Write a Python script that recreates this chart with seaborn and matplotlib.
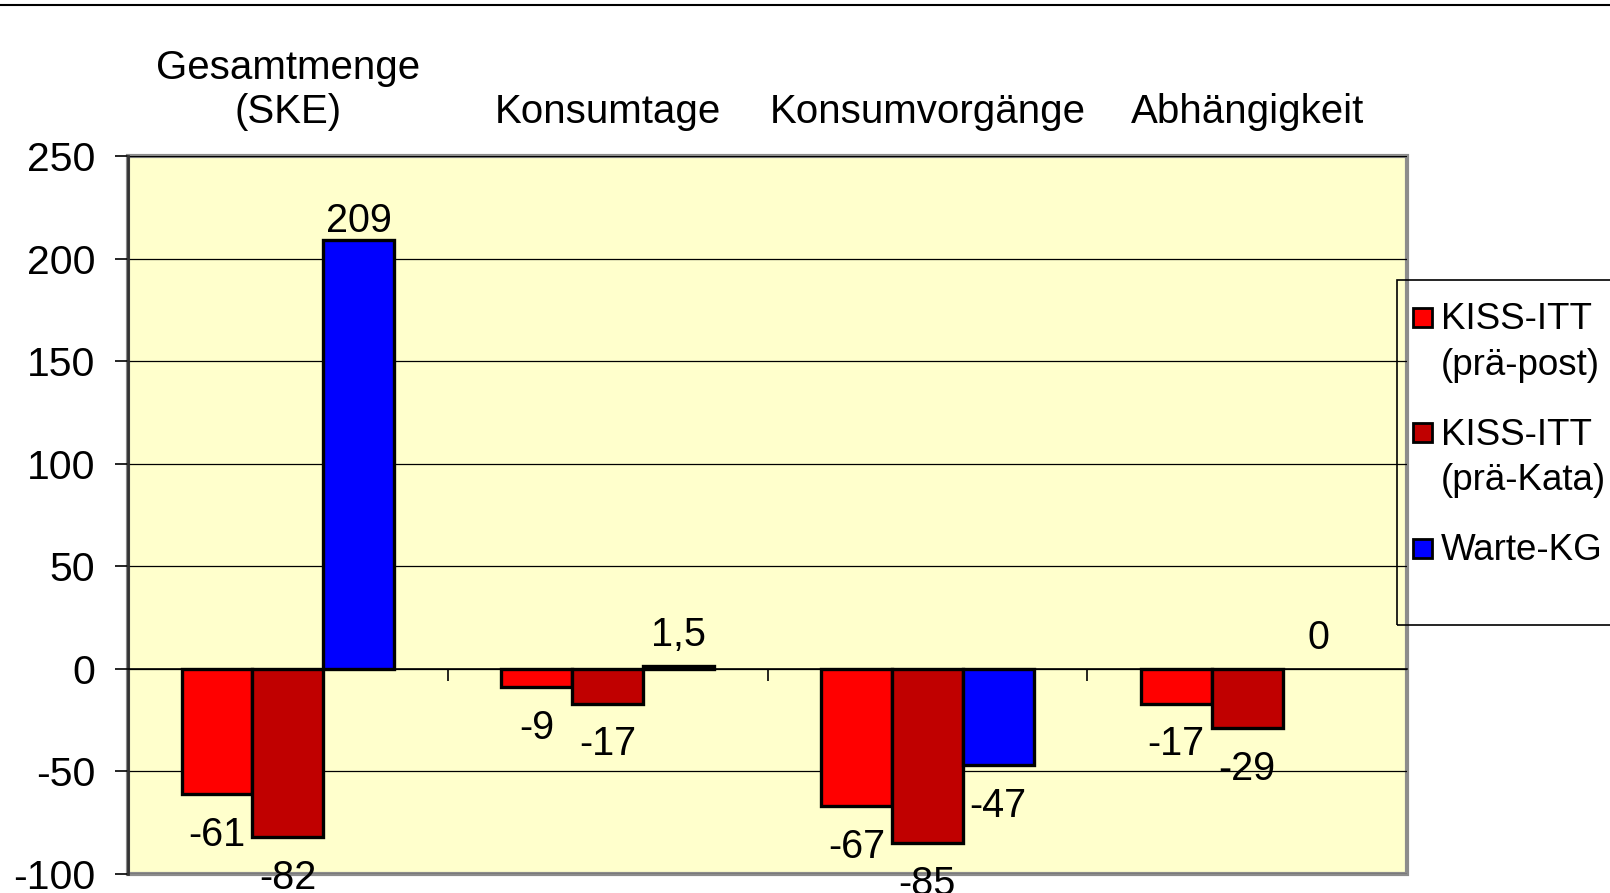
import numpy as np
import pandas as pd
import seaborn as sns
import matplotlib.pyplot as plt
from matplotlib.patches import Rectangle
from matplotlib.lines import Line2D

kategorien = ["Gesamtmenge\n(SKE)", "Konsumtage", "Konsumvorgänge", "Abhängigkeit"]
gruppen = ["KISS-ITT\n(prä-post)", "KISS-ITT\n(prä-Kata)", "Warte-KG"]
farben = ["#FF0000", "#C00000", "#0000FF"]
prae_post = [-61, -9, -67, -17]
prae_kata = [-82, -17, -85, -29]
warte_kg = [209, 1.5, -47, 0]
yticks = [-100, -50, 0, 50, 100, 150, 200, 250]

plt.rcParams['font.family'] = ['Liberation Sans', 'DejaVu Sans']
plt.rcParams['axes.unicode_minus'] = False

df = pd.DataFrame({
    "kategorie": kategorien * len(gruppen),
    "gruppe": np.repeat(gruppen, len(kategorien)),
    "wert": prae_post + prae_kata + warte_kg,
})

W, H = 1610, 893
fig = plt.figure(figsize=(W / 100, H / 100), dpi=100)
ax = fig.add_axes([128 / W, 1 - 874 / H, (1407 - 128) / W, (874 - 156) / H])
ax.set_facecolor("#FFFFCC")
ax.patch.set_edgecolor("#8C8C8C")
ax.patch.set_linewidth(3)

sns.barplot(data=df, x="kategorie", y="wert", hue="gruppe",
            order=kategorien, hue_order=gruppen,
            palette=dict(zip(gruppen, farben)), saturation=1, width=0.665,
            edgecolor="black", linewidth=2.4, legend=False, ax=ax)

ax.set_xlabel("")
ax.set_ylabel("")
ax.set_ylim(-100, 250)
ax.set_xlim(-0.5, len(kategorien) - 0.5)
ax.set_yticks(yticks)
ax.set_axisbelow(True)
ax.yaxis.grid(True, color="black", linewidth=0.9)

# spines: x axis sits on zero, frame comes from the axes patch
ax.spines["top"].set_visible(False)
ax.spines["right"].set_visible(False)
ax.spines["bottom"].set_position(("data", 0))
ax.spines["bottom"].set_color("black")
ax.spines["bottom"].set_linewidth(1.2)
ax.spines["left"].set_color("#333333")
ax.spines["left"].set_linewidth(2)

ax.tick_params(axis="y", labelsize=29.5, length=9.4, width=1.2, pad=14, color="black")
ax.tick_params(axis="x", which="major", bottom=False, top=False, length=0,
               labelbottom=False, labeltop=True, labelsize=29, pad=18)
ax.set_xticks(np.arange(len(kategorien) - 1) + 0.5, minor=True)
ax.tick_params(axis="x", which="minor", bottom=True, direction="out", length=8.6, width=1.2)

# data labels
for container in ax.containers:
    for bar in container:
        v = bar.get_height()
        text = f"{v:g}".replace(".", ",")
        x = bar.get_x() + bar.get_width() / 2
        if v < 0:
            ax.annotate(text, (x, v), xytext=(0, -15.5), textcoords="offset points",
                        ha="center", va="top", fontsize=28.5)
        else:
            pad = 0 if v > 200 else 8.5
            ax.annotate(text, (x, v), xytext=(0, pad), textcoords="offset points",
                        ha="center", va="bottom", fontsize=28.5)
        if v == 0:
            bar.set_linewidth(0)

# legend box drawn by hand so the swatch sits on the first text line
fig.add_artist(Rectangle((1397 / W, 1 - 625 / H), (1650 - 1397) / W, (625 - 280) / H,
                         transform=fig.transFigure, fill=False, edgecolor="black",
                         linewidth=1.2, clip_on=False))
for i, (g, c) in enumerate(zip(gruppen, farben)):
    yc = 317 + i * 115.5
    fig.add_artist(Rectangle((1413 / W, 1 - (yc + 9.5) / H), 19 / W, 19 / H,
                             transform=fig.transFigure, facecolor=c,
                             edgecolor="black", linewidth=2))
    fig.text(1441 / W, 1 - (yc - 14.5) / H, g, fontsize=26.5, va="top", ha="left",
             linespacing=1.38)

fig.add_artist(Line2D([0, 1], [1 - 5 / H, 1 - 5 / H], transform=fig.transFigure,
                      color="black", linewidth=1.5))

fig.savefig("out.png", dpi=100)
